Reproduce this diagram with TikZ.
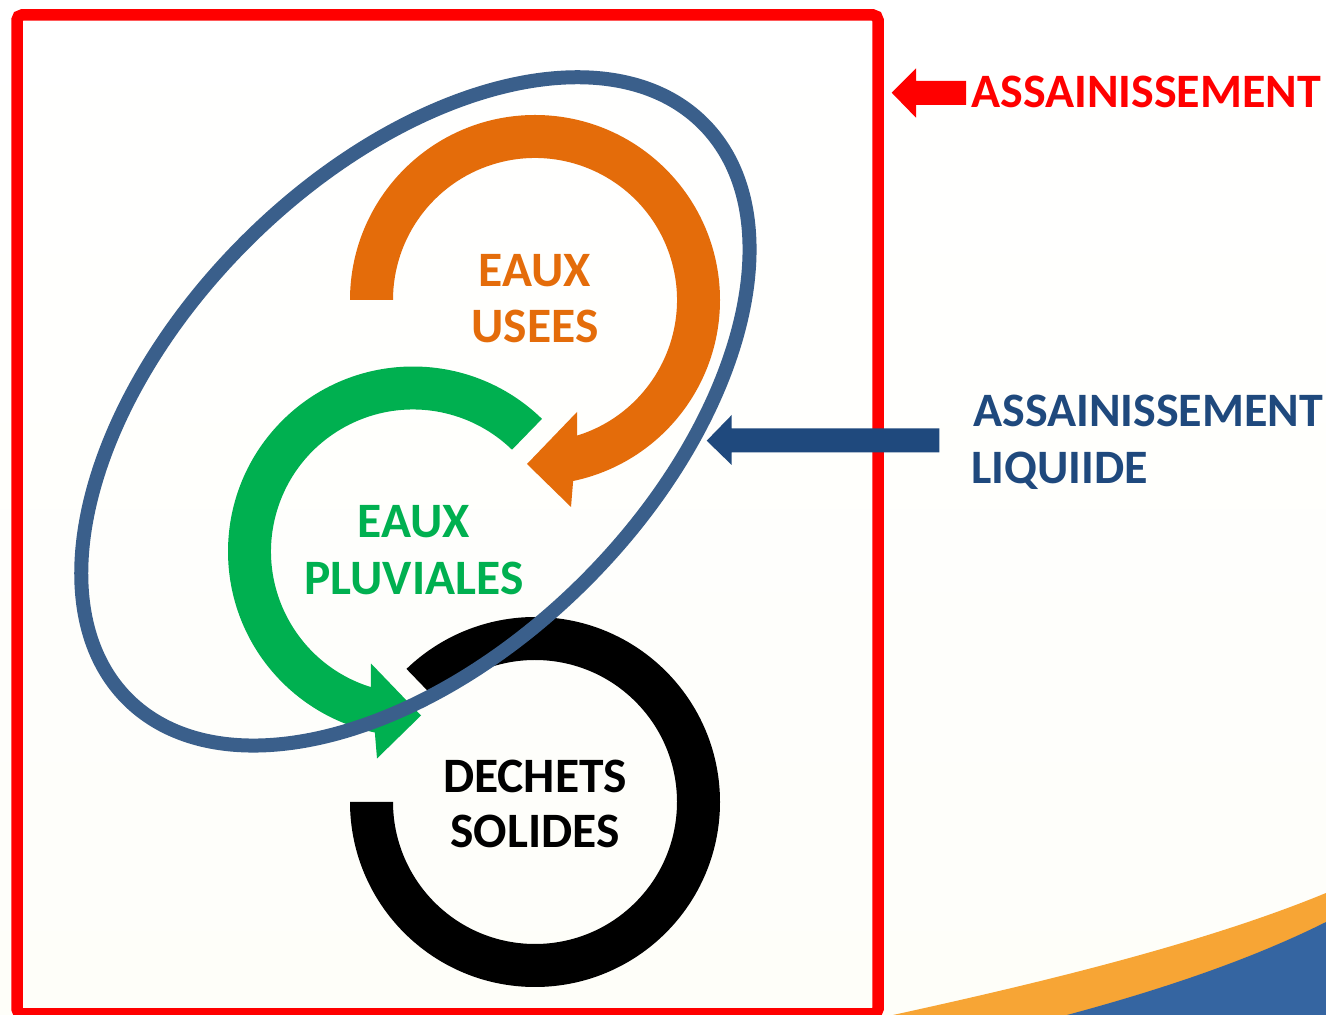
\documentclass[tikz,border=0pt]{standalone}
\usepackage{fontspec}
\setmainfont{Carlito}
\definecolor{redc}{HTML}{FF0000}
\definecolor{orc}{HTML}{E46C0A}
\definecolor{grc}{HTML}{00B050}
\definecolor{elc}{HTML}{3A5F8B}
\definecolor{bac}{HTML}{1F497D}
\definecolor{swo}{HTML}{F7A535}
\definecolor{swb}{HTML}{3565A1}
\definecolor{bgc}{HTML}{FEFEF9}
\begin{document}
\begin{tikzpicture}[x=1pt,y=1pt,
  lbl/.style={inner sep=0pt, anchor=base, font=\fontsize{49.5}{55}\selectfont\bfseries},
  side/.style={inner sep=0pt, anchor=base west, font=\fontsize{48}{56}\selectfont\bfseries}]
\useasboundingbox (0,0) rectangle (1326,1015);
\shade[top color=white, bottom color=bgc] (0,0) rectangle (1326,1015);
% decorative swoosh
\fill[swo] (893,0) .. controls (1030,30) and (1200,70) .. (1326,122) -- (1326,0) -- cycle;
\fill[swb] (1067,0) .. controls (1160,25) and (1250,55) .. (1326,93) -- (1326,0) -- cycle;
% frame
\draw[redc, line width=11.5, rounded corners=5] (17,1) rectangle (878,1000);
% centres
\coordinate (O) at (535,715);
\coordinate (G) at (413,463.5);
\coordinate (B) at (535,213);
% black ring
\fill[black] ([shift={(180:185)}]B) arc[start angle=180, end angle=494, radius=185]
  -- ([shift={(134:142)}]B) arc[start angle=134, end angle=-180, radius=142] -- cycle;
% green circular arrow
\fill[grc] ([shift={(45.8:185)}]G) arc[start angle=45.8, end angle=258.1, radius=185]
  -- (377,256.5) -- (421,299.5) -- (371,351.5)
  -- ([shift={(252.7:142)}]G) arc[start angle=252.7, end angle=45.8, radius=142] -- cycle;
% orange circular arrow
\fill[orc] ([shift={(180:185)}]O) arc[start angle=180, end angle=-78.1, radius=185]
  -- (571,508) -- (527,551) -- (577,603)
  -- ([shift={(-72.7:142)}]O) arc[start angle=-72.7, end angle=180, radius=142] -- cycle;
% ellipse
\begin{scope}[shift={(415.4,603.6)}, rotate=45]
  \coordinate (E) at (0,0);
  \draw[elc, line width=14] (E) ellipse[x radius=407, y radius=240];
\end{scope}
% blue block arrow
\fill[bac] (706.7,574.3) -- (731.7,600) -- (731.7,586.7) -- (939.3,586.7) -- (939.3,562.7)
  -- (731.7,562.7) -- (731.7,550) -- cycle;
% red block arrow
\fill[redc] (891.7,922.3) -- (916,946.7) -- (916,934) -- (966,934) -- (966,910)
  -- (916,910) -- (916,897.3) -- cycle;
% labels
\node[lbl, text=orc] (eu1) at (535,728.3) {EAUX};
\node[lbl, text=orc] (eu2) at (535,672.7) {USEES};
\node[lbl, text=grc] (ep1) at (414,477) {EAUX};
\node[lbl, text=grc] (ep2) at (414,420.7) {PLUVIALES};
\node[lbl, text=black] (ds1) at (535,222.3) {DECHETS};
\node[lbl, text=black] (ds2) at (535,167.3) {SOLIDES};
\node[side, text=redc] (as) at (971,907.3) {ASSAINISSEMENT};
\node[side, text=bac] (al1) at (973,588.3) {ASSAINISSEMENT};
\node[side, text=bac] (al2) at (971,531.7) {LIQUIIDE};
\end{tikzpicture}
\end{document}
